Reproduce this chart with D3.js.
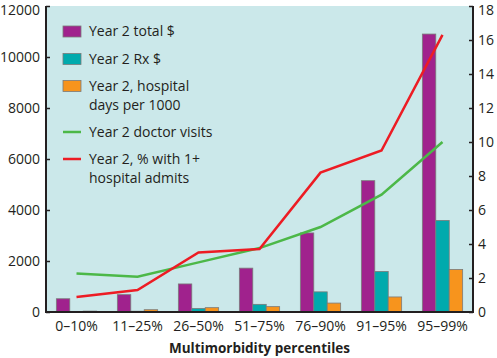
<!DOCTYPE html>
<html><head><meta charset="utf-8">
<script src="https://cdn.jsdelivr.net/npm/d3@7"></script>
<style>body{margin:0;background:#fff}svg{display:block}text{font-family:"Open Sans","Noto Sans",sans-serif;fill:#231f20}</style>
</head><body>
<svg id="c" width="497" height="358"></svg>
<script>
const categories = ["0–10%","11–25%","26–50%","51–75%","76–90%","91–95%","95–99%"];
const totalCost = [520, 680, 1100, 1720, 3100, 5150, 10900];
const rxCost = [20, 30, 140, 300, 790, 1590, 3590];
const hospDays = [35, 90, 170, 210, 350, 590, 1670];
const doctorVisits = [2.27, 2.08, 2.92, 3.76, 5.0, 6.9, 10.0];
const pctAdmits = [0.88, 1.29, 3.5, 3.7, 8.2, 9.5, 16.3];
const leftTicks = [0, 2000, 4000, 6000, 8000, 10000, 12000];
const rightTicks = [0, 2, 4, 6, 8, 10, 12, 14, 16, 18];
const barSeries = [
  {name: "Year 2 total $", values: totalCost, color: "#a0228d"},
  {name: "Year 2 Rx $", values: rxCost, color: "#00aaad"},
  {name: "Year 2, hospital|days per 1000", values: hospDays, color: "#f7941d"}
];
const lineSeries = [
  {name: "Year 2 doctor visits", values: doctorVisits, color: "#4cb848"},
  {name: "Year 2, % with 1+|hospital admits", values: pctAdmits, color: "#ed1c24"}
];

const svg = d3.select("#c");
const L = 46, R = 473, T = 6, B = 312;
const FS = 14;
const x = d3.scaleBand().domain(categories).range([L, R]).paddingInner(0).paddingOuter(0);
const yL = d3.scaleLinear().domain([0, 12000]).range([B, T]);
const yR = d3.scaleLinear().domain([0, 18]).range([B, T]);
const xs = d3.scaleBand().domain(d3.range(barSeries.length)).range([0, x.bandwidth()]).paddingOuter(0.77).paddingInner(0);

svg.append("rect").attr("x", L).attr("y", T).attr("width", R - L).attr("height", B - T).attr("fill", "#cbe8ea");

barSeries.forEach((s, si) => {
  svg.append("g").selectAll("rect").data(s.values).join("rect")
    .attr("x", (d, i) => x(categories[i]) + xs(si))
    .attr("y", d => yL(d))
    .attr("width", xs.bandwidth())
    .attr("height", d => B - yL(d))
    .attr("fill", s.color)
    .attr("stroke", "#7a7a7a").attr("stroke-width", 0.8);
});

lineSeries.forEach(s => {
  const line = d3.line().x((d, i) => x(categories[i]) + x.bandwidth() / 2).y(d => yR(d));
  svg.append("path").datum(s.values).attr("d", line)
    .attr("fill", "none").attr("stroke", s.color).attr("stroke-width", 2.5)
    .attr("stroke-linejoin", "miter");
});

// axes
const gl = svg.append("g").attr("transform", `translate(${L},0)`)
  .call(d3.axisRight(yL).tickValues(leftTicks).tickSize(4).tickFormat(d3.format("d")));
gl.select(".domain").remove();
gl.selectAll(".tick line").attr("stroke", "#231f20").attr("stroke-width", 1.5);
gl.selectAll(".tick text").attr("x", -6).attr("text-anchor", "end").attr("font-size", FS).attr("fill", "#231f20")
  .attr("dy", d => d === 12000 ? "0.62em" : "0.32em");

const gr = svg.append("g").attr("transform", `translate(${R},0)`)
  .call(d3.axisLeft(yR).tickValues(rightTicks).tickSize(4));
gr.select(".domain").remove();
gr.selectAll(".tick line").attr("stroke", "#231f20").attr("stroke-width", 1.5);
gr.selectAll(".tick text").attr("x", 5).attr("text-anchor", "start").attr("font-size", FS).attr("fill", "#231f20")
  .attr("dy", d => d === 18 ? "0.62em" : "0.32em");

svg.append("line").attr("x1", L).attr("x2", L).attr("y1", T).attr("y2", B + 1).attr("stroke", "#231f20").attr("stroke-width", 2);
svg.append("line").attr("x1", R).attr("x2", R).attr("y1", T).attr("y2", B + 1).attr("stroke", "#231f20").attr("stroke-width", 2);
svg.append("line").attr("x1", L).attr("x2", R).attr("y1", B).attr("y2", B).attr("stroke", "#231f20").attr("stroke-width", 2);

const gx = svg.append("g").attr("transform", `translate(0,${B})`).call(d3.axisBottom(x).tickSize(0));
gx.select(".domain").remove();
gx.selectAll(".tick text").attr("y", 9).attr("dy", "0.71em").attr("font-size", FS).attr("fill", "#231f20");

svg.append("text").attr("x", (L + R) / 2).attr("y", 353).attr("text-anchor", "middle")
  .attr("font-size", 13.5).attr("font-weight", "bold").text("Multimorbidity percentiles");

// legend
const lg = svg.append("g");
const legendItems = [
  {s: barSeries[0], type: "bar", y: 31.5},
  {s: barSeries[1], type: "bar", y: 59},
  {s: barSeries[2], type: "bar", y: 86},
  {s: lineSeries[0], type: "line", y: 132},
  {s: lineSeries[1], type: "line", y: 159}
];
legendItems.forEach(it => {
  if (it.type === "bar") {
    lg.append("rect").attr("x", 63).attr("y", it.y - 5.5).attr("width", 18).attr("height", 11)
      .attr("fill", it.s.color).attr("stroke", "#7a7a7a").attr("stroke-width", 0.8);
  } else {
    lg.append("line").attr("x1", 63).attr("x2", 81).attr("y1", it.y).attr("y2", it.y)
      .attr("stroke", it.s.color).attr("stroke-width", 2.5);
  }
  const lines = it.s.name.split("|");
  lines.forEach((t, k) => {
    lg.append("text").attr("x", 89).attr("y", it.y + k * 19).attr("dy", "0.35em")
      .attr("font-size", FS).attr("fill", "#231f20").text(t);
  });
});
</script>
</body></html>
